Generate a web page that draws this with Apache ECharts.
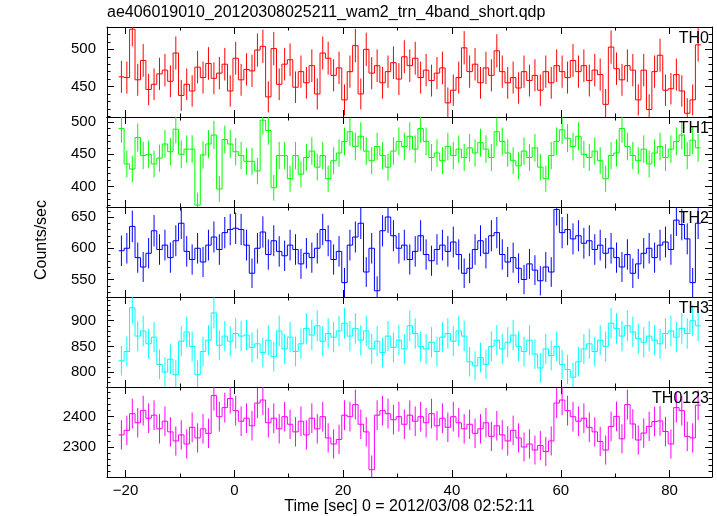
<!DOCTYPE html>
<html>
<head>
<meta charset="utf-8">
<script src="https://cdn.jsdelivr.net/npm/echarts@6.0.0/dist/echarts.min.js"></script>
<style>
html,body{margin:0;padding:0;background:#fff;}
#chart{width:717px;height:516px;}
</style>
</head>
<body>
<div id="chart"></div>
<script>
// ---- data ----
const timeBins = [
-20.75,-19.75,-18.75,-17.75,-16.75,-15.75,-14.75,-13.75,-12.75,-11.75,
-10.75,-9.75,-8.75,-7.75,-6.75,-5.75,-4.75,-3.75,-2.75,-1.75,
-0.75,0.25,1.25,2.25,3.25,4.25,5.25,6.25,7.25,8.25,
9.25,10.25,11.25,12.25,13.25,14.25,15.25,16.25,17.25,18.25,
19.25,20.25,21.25,22.25,23.25,24.25,25.25,26.25,27.25,28.25,
29.25,30.25,31.25,32.25,33.25,34.25,35.25,36.25,37.25,38.25,
39.25,40.25,41.25,42.25,43.25,44.25,45.25,46.25,47.25,48.25,
49.25,50.25,51.25,52.25,53.25,54.25,55.25,56.25,57.25,58.25,
59.25,60.25,61.25,62.25,63.25,64.25,65.25,66.25,67.25,68.25,
69.25,70.25,71.25,72.25,73.25,74.25,75.25,76.25,77.25,78.25,
79.25,80.25,81.25,82.25,83.25,84.25,85.25
];
const binWidth = 1;

const th0 = [
463,462,527,459,485,446,453,467,472,457,
495,438,453,444,476,462,481,461,468,480,
444,488,459,473,471,499,504,436,501,453,
480,486,449,470,455,478,440,495,488,465,
475,432,470,505,440,500,468,478,455,470,
482,460,490,478,488,462,472,458,468,475,
428,445,462,502,470,480,455,475,465,498,
470,455,462,448,470,458,465,445,470,455,
478,470,462,485,470,478,458,472,466,426,
503,474,459,478,472,432,472,419,470,492,
445,447,466,444,414,432,506
];
const th1 = [
490,435,427,476,448,450,435,444,466,454,
489,450,458,458,371,449,466,480,396,473,
466,454,448,439,439,424,503,487,398,448,
448,412,448,419,445,455,430,448,412,440,
452,470,485,462,478,455,440,462,448,430,
455,470,462,478,458,490,470,445,452,440,
462,448,458,445,460,452,468,458,445,485,
470,452,440,432,455,445,460,430,412,448,
470,488,475,462,478,450,445,455,440,412,
448,452,490,462,448,440,458,435,452,462,
445,458,470,480,448,472,460
];
const th2 = [
596,600,635,585,570,592,628,598,605,585,
612,640,595,582,600,578,605,618,598,625,
630,632,630,605,560,600,626,590,612,595,
588,605,598,575,592,585,600,630,612,582,
595,545,605,618,640,562,600,532,628,650,
620,600,605,582,595,620,590,580,598,605,
595,610,590,560,568,598,612,592,620,625,
590,578,585,568,550,575,565,548,570,562,
662,625,630,615,620,608,612,598,605,592,
600,585,570,590,560,575,592,600,585,605,
610,598,645,638,615,545,640
];
const th3 = [
822,840,925,870,880,855,868,815,800,825,
795,860,878,850,795,840,862,915,852,870,
860,875,870,872,848,855,838,862,830,880,
845,868,840,855,885,872,890,860,875,868,
880,895,870,885,862,880,845,860,838,870,
848,862,845,890,875,850,845,858,840,868,
875,860,880,870,820,812,828,815,850,862,
845,858,872,850,840,862,835,808,845,832,
850,815,805,790,820,845,855,840,862,850,
895,885,870,890,878,865,858,870,862,855,
875,880,868,885,875,900,890
];
const th0123 = [
2340,2355,2410,2380,2420,2395,2405,2360,2385,2350,
2320,2340,2310,2365,2330,2360,2345,2470,2400,2430,
2460,2420,2385,2395,2370,2445,2455,2380,2395,2360,
2400,2375,2350,2385,2340,2395,2360,2400,2330,2310,
2325,2405,2400,2440,2375,2350,2225,2405,2420,2410,
2390,2400,2375,2405,2385,2400,2380,2410,2370,2395,
2365,2400,2380,2360,2375,2345,2360,2380,2335,2370,
2340,2320,2355,2330,2300,2310,2290,2305,2285,2320,
2445,2455,2420,2400,2385,2395,2365,2350,2318,2290,
2368,2401,2327,2440,2376,2323,2346,2368,2384,2386,
2351,2310,2430,2420,2335,2330,2438
];

const panelNames = ['TH0','TH1','TH2','TH3','TH0123'];
const panelSeries = [th0, th1, th2, th3, th0123];
const panelColors = ['#ff0000','#00ff00','#0000ff','#00ffff','#ff00ff'];
const yRanges = [[409,530],[368,508],[522,666],[771,946],[2201,2498]];
const yMajorTicks = [[450,500],[400,450,500],[550,600,650],[800,850,900],[2300,2400]];
const yMinorStep = [10,10,10,10,20];
const xRange = [-23.4, 87.8];
const xMajorTicks = [-20,0,20,40,60,80];
const xMinorTicks = [-10,10,30,50,70];
const titleText = 'ae406019010_20120308025211_wam2_trn_4band_short.qdp';
const xTitle = 'Time [sec] 0 = 2012/03/08 02:52:11';
const yTitle = 'Counts/sec';

// ---- layout ----
const FONT = '"Liberation Sans", Arial, Helvetica, sans-serif';
const L = 107, W = 605, T0 = 27, H = 90;

function minorList(range, step, majors) {
  const out = [];
  let v = Math.ceil(range[0] / step) * step;
  for (; v <= range[1]; v += step) {
    if (majors.indexOf(v) < 0) out.push(v);
  }
  return out;
}

const grids = [], xAxes = [], yAxes = [], series = [], graphics = [];
const black = {color:'#000', width:1};

for (let p = 0; p < 5; p++) {
  grids.push({left: L, top: T0 + H * p, width: W, height: H, containLabel: false});
  const xBase = {gridIndex: p, type: 'value', min: xRange[0], max: xRange[1], splitLine: {show:false}};
  xAxes.push(Object.assign({}, xBase, {
    position: 'bottom',
    axisLine: {show: true, onZero: false, lineStyle: black},
    axisTick: {show: true, inside: true, length: 7, lineStyle: black, customValues: xMajorTicks},
    axisLabel: {show: p === 4, customValues: xMajorTicks, margin: 6, color: '#000', fontSize: 15, fontFamily: FONT,
      formatter: v => (v < 0 ? '\u2212' + Math.abs(v) : String(v))}
  }));
  xAxes.push(Object.assign({}, xBase, {
    position: 'bottom',
    axisLine: {show: false, onZero: false},
    axisTick: {show: true, inside: true, length: 3.5, lineStyle: black, customValues: xMinorTicks},
    axisLabel: {show: false}
  }));
  xAxes.push(Object.assign({}, xBase, {
    position: 'top',
    axisLine: {show: true, onZero: false, lineStyle: black},
    axisTick: {show: true, inside: true, length: 7, lineStyle: black, customValues: xMajorTicks},
    axisLabel: {show: false}
  }));
  xAxes.push(Object.assign({}, xBase, {
    position: 'top',
    axisLine: {show: false, onZero: false},
    axisTick: {show: true, inside: true, length: 3.5, lineStyle: black, customValues: xMinorTicks},
    axisLabel: {show: false}
  }));

  const yr = yRanges[p];
  const yMin = minorList(yr, yMinorStep[p], yMajorTicks[p]);
  const yBase = {gridIndex: p, type: 'value', min: yr[0], max: yr[1], splitLine: {show:false}};
  yAxes.push(Object.assign({}, yBase, {
    position: 'left',
    axisLine: {show: true, onZero: false, lineStyle: black},
    axisTick: {show: true, inside: true, length: 7, lineStyle: black, customValues: yMajorTicks[p]},
    axisLabel: {show: true, customValues: yMajorTicks[p], margin: 11, color: '#000', fontSize: 15, fontFamily: FONT,
      formatter: v => String(v)}
  }));
  yAxes.push(Object.assign({}, yBase, {
    position: 'left',
    axisLine: {show: false, onZero: false},
    axisTick: {show: true, inside: true, length: 3.5, lineStyle: black, customValues: yMin},
    axisLabel: {show: false}
  }));
  yAxes.push(Object.assign({}, yBase, {
    position: 'right',
    axisLine: {show: true, onZero: false, lineStyle: black},
    axisTick: {show: true, inside: true, length: 7, lineStyle: black, customValues: yMajorTicks[p]},
    axisLabel: {show: false}
  }));
  yAxes.push(Object.assign({}, yBase, {
    position: 'right',
    axisLine: {show: false, onZero: false},
    axisTick: {show: true, inside: true, length: 3.5, lineStyle: black, customValues: yMin},
    axisLabel: {show: false}
  }));

  const vals = panelSeries[p];
  const color = panelColors[p];
  const data = timeBins.map((t, i) => [t, vals[i], Math.sqrt(vals[i])]);
  series.push({
    type: 'custom',
    xAxisIndex: 4 * p,
    yAxisIndex: 4 * p,
    clip: true,
    silent: true,
    data: data,
    renderItem: function (params, api) {
      const i = params.dataIndex;
      const t = api.value(0), v = api.value(1), e = api.value(2);
      const half = binWidth / 2;
      const a = api.coord([t - half, v]);
      const b = api.coord([t + half, v]);
      const lo = api.coord([t, v - e]);
      const hi = api.coord([t, v + e]);
      const st = {stroke: color, lineWidth: 1, fill: null};
      const children = [
        {type: 'line', shape: {x1: a[0], y1: a[1], x2: b[0], y2: b[1]}, style: st},
        {type: 'line', shape: {x1: lo[0], y1: lo[1], x2: hi[0], y2: hi[1]}, style: st}
      ];
      if (i > 0) {
        const pv = vals[i - 1];
        const c = api.coord([t - half, pv]);
        children.push({type: 'line', shape: {x1: a[0], y1: c[1], x2: a[0], y2: a[1]}, style: st});
      }
      return {type: 'group', children: children};
    }
  });

  graphics.push({
    type: 'text', x: 709, y: T0 + H * p + 4, z: 100,
    style: {text: panelNames[p], fill: '#000', font: '16px ' + FONT, align: 'right', verticalAlign: 'top'}
  });
}

graphics.push({
  type: 'text', x: L, y: 5,
  style: {text: titleText, fill: '#000', font: '16px ' + FONT, align: 'left', verticalAlign: 'top'}
});
graphics.push({
  type: 'text', x: L + W / 2, y: 499,
  style: {text: xTitle, fill: '#000', font: '16px ' + FONT, align: 'center', verticalAlign: 'top'}
});
graphics.push({
  type: 'text', x: 42, y: 240, rotation: Math.PI / 2,
  style: {text: yTitle, fill: '#000', font: '16px ' + FONT, align: 'center', verticalAlign: 'middle'}
});

const chart = echarts.init(document.getElementById('chart'), null, {renderer: 'canvas'});
chart.setOption({
  backgroundColor: '#fff',
  animation: false,
  grid: grids,
  xAxis: xAxes,
  yAxis: yAxes,
  series: series,
  graphic: graphics
});
</script>
</body>
</html>
